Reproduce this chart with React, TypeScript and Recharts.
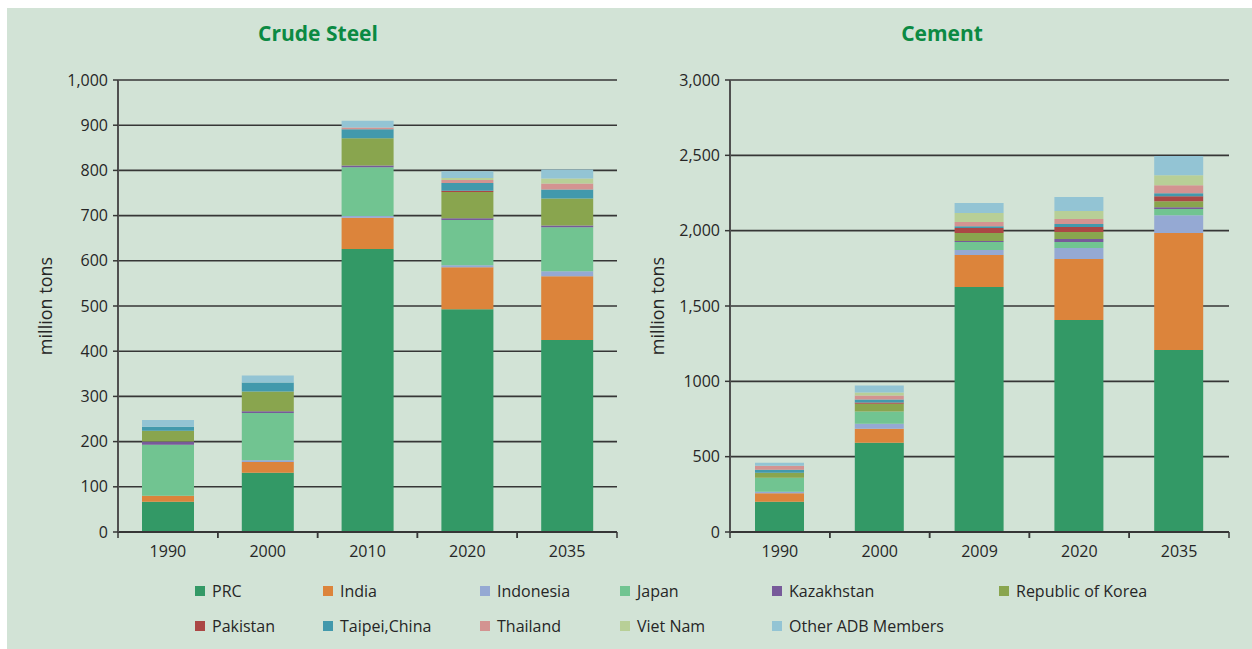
import React from "react";
import { BarChart, Bar, XAxis, YAxis, CartesianGrid } from "recharts";

// values in million tons
const steelYears = ["1990", "2000", "2010", "2020", "2035"];
const cementYears = ["1990", "2000", "2009", "2020", "2035"];

const seriesNames = [
  "PRC",
  "India",
  "Indonesia",
  "Japan",
  "Kazakhstan",
  "Republic of Korea",
  "Pakistan",
  "Taipei,China",
  "Thailand",
  "Viet Nam",
  "Other ADB Members",
];

const seriesColors = [
  "#339966",
  "#dc843b",
  "#95a9d3",
  "#71c491",
  "#775a9a",
  "#89a54e",
  "#ab4745",
  "#4299ac",
  "#d39391",
  "#b8cf97",
  "#93c4d4",
];

const steelPRC = [67, 131, 626, 493, 425];
const steelIndia = [13, 24, 69, 93, 141];
const steelIndonesia = [0, 4, 4, 4, 11];
const steelJapan = [113, 104, 108, 100, 97];
const steelKazakhstan = [7, 4, 4, 4, 4];
const steelKorea = [24, 44, 60, 58, 60];
const steelPakistan = [0, 0, 0, 3, 0];
const steelTaipei = [9, 20, 20, 17, 20];
const steelThailand = [0, 0, 4, 7, 13];
const steelVietNam = [0, 0, 0, 4, 11];
const steelOther = [15, 15, 15, 15, 20];

const cementPRC = [201, 593, 1626, 1407, 1208];
const cementIndia = [57, 93, 212, 405, 776];
const cementIndonesia = [9, 33, 33, 73, 119];
const cementJapan = [93, 80, 53, 40, 40];
const cementKazakhstan = [0, 0, 7, 20, 13];
const cementKorea = [33, 53, 53, 46, 40];
const cementPakistan = [0, 7, 33, 33, 33];
const cementTaipei = [20, 20, 13, 20, 20];
const cementThailand = [27, 27, 27, 33, 53];
const cementVietNam = [0, 20, 60, 53, 66];
const cementOther = [20, 46, 66, 93, 128];

const steelTicks = [0, 100, 200, 300, 400, 500, 600, 700, 800, 900, 1000];
const steelTickLabels = ["0", "100", "200", "300", "400", "500", "600", "700", "800", "900", "1,000"];
const cementTicks = [0, 500, 1000, 1500, 2000, 2500, 3000];
const cementTickLabels = ["0", "500", "1000", "1,500", "2,000", "2,500", "3,000"];

const steelSeries = [
  steelPRC, steelIndia, steelIndonesia, steelJapan, steelKazakhstan, steelKorea,
  steelPakistan, steelTaipei, steelThailand, steelVietNam, steelOther,
];
const cementSeries = [
  cementPRC, cementIndia, cementIndonesia, cementJapan, cementKazakhstan, cementKorea,
  cementPakistan, cementTaipei, cementThailand, cementVietNam, cementOther,
];

const FONT = "'Open Sans', sans-serif";
const INK = "#262626";
const GRID = "#363636";

function buildRows(years: string[], series: number[][]) {
  return years.map((year, i) => {
    const row: Record<string, string | number> = { year };
    seriesNames.forEach((name, s) => {
      row[name] = series[s][i];
    });
    return row;
  });
}

function YearTick(props: any) {
  const { x, y, payload } = props;
  const half = payload?.offset ?? 0;
  const axisY = y - 14;
  return (
    <g>
      {half > 0 && (
        <>
          <line x1={x - half} x2={x - half} y1={axisY} y2={axisY + 6} stroke={GRID} strokeWidth={1.5} />
          <line x1={x + half} x2={x + half} y1={axisY} y2={axisY + 6} stroke={GRID} strokeWidth={1.5} />
        </>
      )}
      <text x={x} y={y} dy="0.68em" textAnchor="middle" fill={INK} fontSize={16} fontFamily={FONT}>
        {payload.value}
      </text>
    </g>
  );
}

function Panel({
  years,
  series,
  ticks,
  tickLabels,
  barSize,
}: {
  years: string[];
  series: number[][];
  ticks: number[];
  tickLabels: string[];
  barSize: number;
}) {
  const rows = buildRows(years, series);
  return (
    <BarChart
      width={640}
      height={600}
      data={rows}
      margin={{ top: 80, right: 23, left: 58, bottom: 38 }}
      style={{ fontFamily: FONT }}
    >
      <CartesianGrid vertical={false} stroke={GRID} strokeWidth={1.6} />
      <XAxis
        dataKey="year"
        height={30}
        tickLine={false}
        tickSize={6}
        tickMargin={8}
        axisLine={{ stroke: GRID, strokeWidth: 2 }}
        tick={<YearTick />}
      />
      <YAxis
        width={60}
        domain={[ticks[0], ticks[ticks.length - 1]]}
        ticks={ticks}
        interval={0}
        tickSize={5}
        tickMargin={5}
        tickLine={{ stroke: GRID, strokeWidth: 1.5 }}
        axisLine={{ stroke: "#505050", strokeWidth: 2 }}
        tick={{ fill: INK, fontSize: 16, fontFamily: FONT }}
        tickFormatter={(v: number) => tickLabels[ticks.indexOf(v)] ?? String(v)}
      />
      <YAxis
        yAxisId="edge"
        orientation="right"
        width={0}
        domain={[0, 1]}
        tick={false}
        tickLine={false}
        axisLine={{ stroke: "#505050", strokeWidth: 2 }}
      />
      {seriesNames.map((name, s) => (
        <Bar
          key={name}
          dataKey={name}
          stackId="total"
          fill={seriesColors[s]}
          barSize={barSize}
          isAnimationActive={false}
        />
      ))}
    </BarChart>
  );
}

export default function App() {
  const titleStyle: React.CSSProperties = {
    position: "absolute",
    top: 19,
    width: 300,
    textAlign: "center",
    color: "#0b8a43",
    fontFamily: FONT,
    fontWeight: 700,
    fontSize: 21,
    lineHeight: "28px",
  };
  const axisTitle: React.CSSProperties = {
    position: "absolute",
    width: 200,
    marginLeft: -100,
    textAlign: "center",
    transform: "rotate(-90deg)",
    fontFamily: FONT,
    fontSize: 18,
    lineHeight: "22px",
    color: INK,
    top: 295,
  };
  return (
    <div
      style={{
        position: "absolute",
        left: 0,
        top: 0,
        width: 1252,
        height: 649,
        background: "#ffffff",
        overflow: "hidden",
      }}
    >
      <div style={{ position: "absolute", left: 7, top: 8, right: 0, bottom: 0, background: "#d2e3d6" }} />
      <div style={{ position: "absolute", left: 0, top: 0 }}>
        <Panel years={steelYears} series={steelSeries} ticks={steelTicks} tickLabels={steelTickLabels} barSize={52} />
      </div>
      <div style={{ position: "absolute", left: 612, top: 0 }}>
        <Panel years={cementYears} series={cementSeries} ticks={cementTicks} tickLabels={cementTickLabels} barSize={49} />
      </div>
      <div style={{ ...titleStyle, left: 168 }}>Crude Steel</div>
      <div style={{ ...titleStyle, left: 792 }}>Cement</div>
      <div style={{ ...axisTitle, left: 45 }}>million tons</div>
      <div style={{ ...axisTitle, left: 657 }}>million tons</div>
      <div
        style={{
          position: "absolute",
          left: 195,
          top: 580,
          display: "grid",
          gridTemplateColumns: "128px 157px 140px 152px 227px auto",
          rowGap: 13,
          fontFamily: FONT,
          fontSize: 16,
          color: INK,
        }}
      >
        {seriesNames.map((name, s) => (
          <div key={name} style={{ display: "flex", alignItems: "center", height: 22, whiteSpace: "nowrap" }}>
            <span style={{ width: 10, height: 10, background: seriesColors[s], marginRight: 7, flex: "none" }} />
            {name}
          </div>
        ))}
      </div>
    </div>
  );
}
